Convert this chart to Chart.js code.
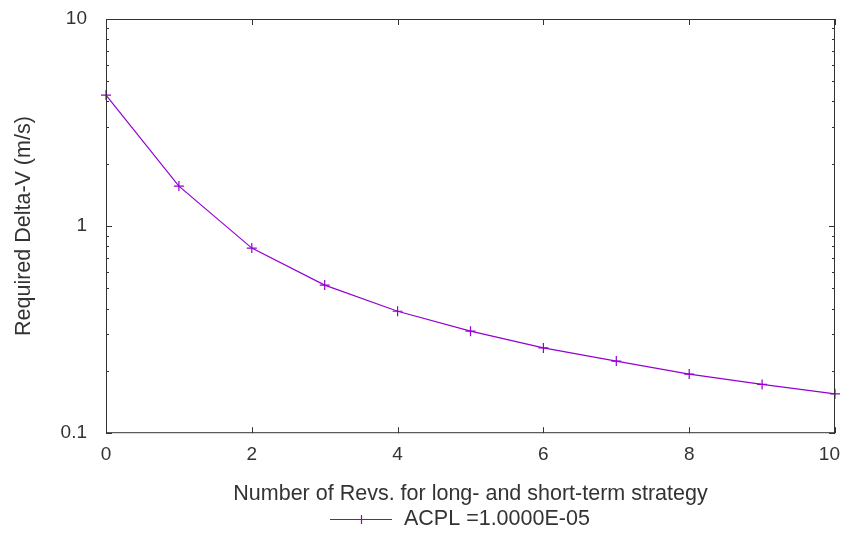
<!DOCTYPE html>
<html>
<head>
<meta charset="utf-8">
<script src="https://cdn.jsdelivr.net/npm/chart.js@4"></script>
<style>
  html, body { margin: 0; padding: 0; background: #fff; }
  #wrap { width: 842px; height: 536px; position: relative; }
</style>
</head>
<body>
<div id="wrap"><canvas id="c" width="842" height="536"></canvas></div>
<script>
const revs = [0, 1, 2, 3, 4, 5, 6, 7, 8, 9, 10];
const deltaV = [4.29, 1.56, 0.783, 0.519, 0.388, 0.311, 0.258, 0.223, 0.193, 0.172, 0.155];
const seriesLabel = 'ACPL =1.0000E-05';
const xTicks = [0, 2, 4, 6, 8, 10];
const yTicks = [0.1, 1, 10];
const xTitle = 'Number of Revs. for long- and short-term strategy';
const yTitle = 'Required Delta-V (m/s)';

const lineColor = '#9400D3';
const textColor = '#333';
const FONT = 'Liberation Sans, Arial, sans-serif';

const innerTicks = {
  id: 'innerTicks',
  afterDatasetsDraw(chart) {
    const ctx = chart.ctx, a = chart.chartArea;
    const xs = chart.scales.x, ys = chart.scales.y;
    ctx.save();
    ctx.strokeStyle = '#333';
    ctx.lineWidth = 1;
    ctx.strokeRect(a.left + 0.5, a.top + 0.5, a.right - a.left - 1, a.bottom - a.top - 1);
    ctx.beginPath();
    xTicks.forEach(v => {
      const px = Math.round(xs.getPixelForValue(v)) + 0.5;
      ctx.moveTo(px, a.bottom); ctx.lineTo(px, a.bottom - 6);
      ctx.moveTo(px, a.top); ctx.lineTo(px, a.top + 6);
    });
    for (let d = -1; d <= 0; d++) {
      for (let m = 1; m <= 10; m++) {
        const v = m * Math.pow(10, d);
        const py = Math.round(ys.getPixelForValue(v)) + 0.5;
        const len = (m === 1 || m === 10) ? 6 : 3;
        ctx.moveTo(a.left, py); ctx.lineTo(a.left + len, py);
        ctx.moveTo(a.right, py); ctx.lineTo(a.right - len, py);
      }
    }
    ctx.stroke();
    // x tick labels
    ctx.font = '19px ' + FONT;
    ctx.fillStyle = textColor;
    ctx.textBaseline = 'middle';
    ctx.textAlign = 'center';
    xTicks.forEach(v => {
      const label = String(v);
      const w = ctx.measureText(label).width;
      let px = xs.getPixelForValue(v);
      px = Math.min(px, chart.width - w / 2 - 2);
      ctx.fillText(label, px, a.bottom + 22);
    });
    ctx.restore();
  },
  afterDraw(chart) {
    const ctx = chart.ctx;
    const ds = chart.data.datasets[0];
    const y = 519;
    ctx.save();
    ctx.font = '21.5px ' + FONT;
    const x0 = 330, lineW = 62;
    ctx.strokeStyle = lineColor;
    ctx.lineWidth = 1.2;
    ctx.beginPath();
    ctx.moveTo(x0, y + 0.5); ctx.lineTo(x0 + lineW, y + 0.5);
    ctx.moveTo(x0 + lineW / 2 + 0.5, y - 4); ctx.lineTo(x0 + lineW / 2 + 0.5, y + 5);
    ctx.stroke();
    ctx.fillStyle = textColor;
    ctx.textBaseline = 'middle';
    ctx.textAlign = 'left';
    ctx.fillText(ds.label, 404, y);
    ctx.restore();
  }
};

new Chart(document.getElementById('c'), {
  type: 'line',
  data: {
    datasets: [{
      label: seriesLabel,
      data: revs.map((r, i) => ({ x: r, y: deltaV[i] })),
      borderColor: lineColor,
      backgroundColor: lineColor,
      borderWidth: 1.2,
      pointStyle: 'cross',
      pointRadius: 5,
      pointBorderWidth: 1.2,
      pointHoverRadius: 5,
      tension: 0,
      clip: false
    }]
  },
  options: {
    responsive: false,
    animation: false,
    devicePixelRatio: 1,
    layout: { padding: { left: 0, right: 7, top: 19, bottom: 29 } },
    plugins: { legend: { display: false }, tooltip: { enabled: false } },
    scales: {
      x: {
        type: 'linear', min: 0, max: 10,
        afterBuildTicks: s => { s.ticks = xTicks.map(v => ({ value: v })); },
        grid: { display: false, drawTicks: false },
        border: { display: false },
        ticks: { display: false },
        title: { display: true, text: xTitle, color: textColor, font: { family: FONT, size: 21.5 }, padding: { top: 48, bottom: 0 } },
        afterFit: s => { s.paddingLeft = 0; s.paddingRight = 0; }
      },
      y: {
        type: 'logarithmic', min: 0.1, max: 10,
        afterBuildTicks: s => { s.ticks = yTicks.map(v => ({ value: v })); },
        grid: { display: false, drawTicks: false },
        border: { display: false },
        ticks: { color: textColor, font: { family: FONT, size: 19 }, padding: 19, callback: v => String(v) },
        title: { display: true, text: yTitle, color: textColor, font: { family: FONT, size: 21.5 }, padding: { top: 11, bottom: 0 } },
        afterFit: s => { s.width = 106; s.paddingTop = 0; s.paddingBottom = 0; }
      }
    }
  },
  plugins: [innerTicks]
});
</script>
</body>
</html>
